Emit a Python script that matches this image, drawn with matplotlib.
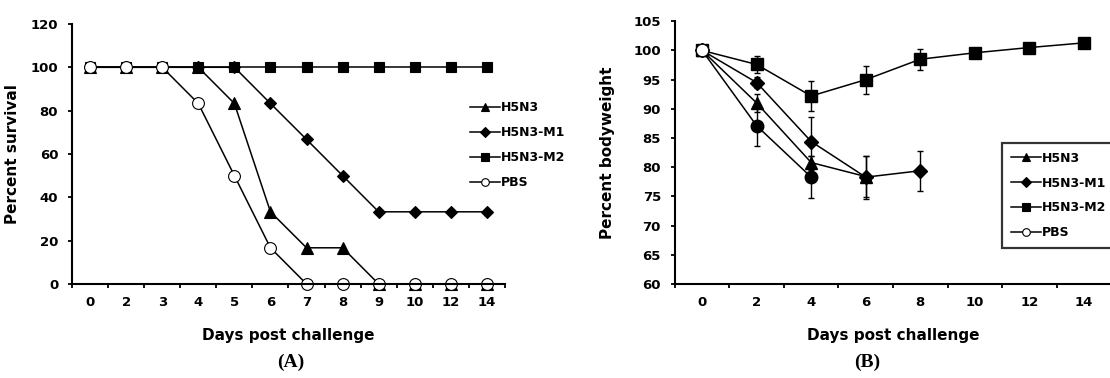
import matplotlib.pyplot as plt
from matplotlib.lines import Line2D
import numpy as np

plt.rcParams['font.family'] = 'DejaVu Sans'
plt.rcParams['font.weight'] = 'bold'
plt.rcParams['axes.labelweight'] = 'bold'

# (A) survival
days_a = ['0', '2', '3', '4', '5', '6', '7', '8', '9', '10', '12', '14']
surv_h5n3 = [100, 100, 100, 100, 83.3, 33.3, 16.7, 16.7, 0, 0, 0, 0]
surv_m1 = [100, 100, 100, 100, 100, 83.3, 66.7, 50, 33.3, 33.3, 33.3, 33.3]
surv_m2 = [100, 100, 100, 100, 100, 100, 100, 100, 100, 100, 100, 100]
surv_pbs = [100, 100, 100, 83.3, 50, 16.7, 0, 0, 0, 0, 0, 0]

# (B) bodyweight
days_b = ['0', '2', '4', '6', '8', '10', '12', '14']
bw_h5n3 = [100, 91.0, 80.8, 78.4]
bw_h5n3_err = [0, 1.6, 1.2, 3.5]
bw_m1 = [100, 94.5, 84.4, 78.3, 79.4]
bw_m1_err = [0, 1.0, 4.2, 3.7, 3.4]
bw_m2 = [100, 97.6, 92.2, 95.0, 98.5, 99.6, 100.5, 101.3]
bw_m2_err = [0, 1.4, 2.6, 2.4, 1.8, 0.4, 0.4, 0.4]
bw_pbs = [100, 87.1, 78.3]
bw_pbs_err = [0, 3.5, 3.6]

names = ['H5N3', 'H5N3-M1', 'H5N3-M2', 'PBS']
markers = ['^', 'D', 's', 'o']
msizes = [8, 6.5, 7.5, 8.5]


def style_axis(ax, labels):
    n = len(labels)
    ax.set_xlim(-0.5, n - 0.5)
    ax.set_xticks(np.arange(n + 1) - 0.5)
    ax.set_xticklabels([])
    ax.set_xticks(np.arange(n), minor=True)
    ax.set_xticklabels(labels, minor=True)
    ax.tick_params(axis='x', which='minor', length=0, pad=9, labelsize=9.5)
    ax.tick_params(axis='x', which='major', direction='out', length=3, width=1.3)
    ax.tick_params(axis='y', direction='out', length=3, width=1.3, pad=7, labelsize=9.5)
    for s in ['top', 'right']:
        ax.spines[s].set_visible(False)
    for s in ['left', 'bottom']:
        ax.spines[s].set_linewidth(1.5)


def legend_handles():
    hs = []
    for name, m in zip(names, markers):
        fc = 'white' if m == 'o' else 'black'
        hs.append(Line2D([], [], color='black', lw=1.1, marker=m, markersize=5.5,
                         markerfacecolor=fc, markeredgecolor='black', markeredgewidth=0.8, label=name))
    return hs


fig = plt.figure(figsize=(11.1, 3.78), dpi=100)

# ---------- panel A ----------
ax1 = fig.add_axes([0.0649, 0.2487, 0.390, 0.688])
x = np.arange(len(days_a))
for vals, m, ms in zip([surv_h5n3, surv_m1, surv_m2, surv_pbs], markers, msizes):
    fc = 'white' if m == 'o' else 'black'
    ax1.plot(x, vals, color='black', lw=1.1, marker=m, markersize=ms,
             markerfacecolor=fc, markeredgecolor='black', markeredgewidth=0.8, clip_on=False)
ax1.set_ylim(0, 120)
ax1.set_yticks(np.arange(0, 121, 20))
style_axis(ax1, days_a)
ax1.set_ylabel('Percent survival', fontsize=11, fontweight='bold')
ax1.yaxis.set_label_coords(-0.12, 0.5)
ax1.set_xlabel('Days post challenge', fontsize=11, fontweight='bold')
ax1.xaxis.set_label_coords(0.5, -0.17)
fig.legend(handles=legend_handles(), loc='upper left', bbox_to_anchor=(0.4234, 0.7315),
           frameon=False, fontsize=9, borderpad=0, borderaxespad=0, handlelength=2.4,
           handletextpad=0.1, labelspacing=0.95)

# ---------- panel B ----------
ax2 = fig.add_axes([0.608, 0.2487, 0.393, 0.695])
series_b = [(bw_h5n3, bw_h5n3_err), (bw_m1, bw_m1_err), (bw_m2, bw_m2_err), (bw_pbs, bw_pbs_err)]
order = [2, 1, 0, 3]
for i in order:
    vals, err = series_b[i]
    xb = np.arange(len(vals))
    ax2.errorbar(xb, vals, yerr=err, color='black', lw=1.1, marker=markers[i],
                 markersize=msizes[i] + 0.5, markerfacecolor='black', markeredgecolor='black',
                 elinewidth=1, capsize=2.5, capthick=1, clip_on=False)
# day 0 control marker shown open
ax2.plot([0], bw_pbs[:1], linestyle='none', marker='o', markersize=msizes[3] + 0.5,
         markerfacecolor='white', markeredgecolor='black', markeredgewidth=0.8, zorder=5)
ax2.set_ylim(60, 105)
ax2.set_yticks(np.arange(60, 106, 5))
style_axis(ax2, days_b)
ax2.set_ylabel('Percent bodyweight', fontsize=11, fontweight='bold')
ax2.yaxis.set_label_coords(-0.138, 0.5)
ax2.set_xlabel('Days post challenge', fontsize=11, fontweight='bold')
ax2.xaxis.set_label_coords(0.5, -0.168)
leg = fig.legend(handles=legend_handles(), loc='upper left', bbox_to_anchor=(0.9027, 0.6217),
                 frameon=True, fancybox=False, edgecolor='black', fontsize=9, borderpad=0.7,
                 borderaxespad=0, handlelength=2.4, handletextpad=0.1, labelspacing=0.95)
leg.get_frame().set_linewidth(1.6)

fig.text(0.262, 0.03, '(A)', fontsize=14, fontweight='bold', family='Liberation Serif', ha='center')
fig.text(0.781, 0.03, '(B)', fontsize=14, fontweight='bold', family='Liberation Serif', ha='center')

fig.savefig('out.png', dpi=100)
